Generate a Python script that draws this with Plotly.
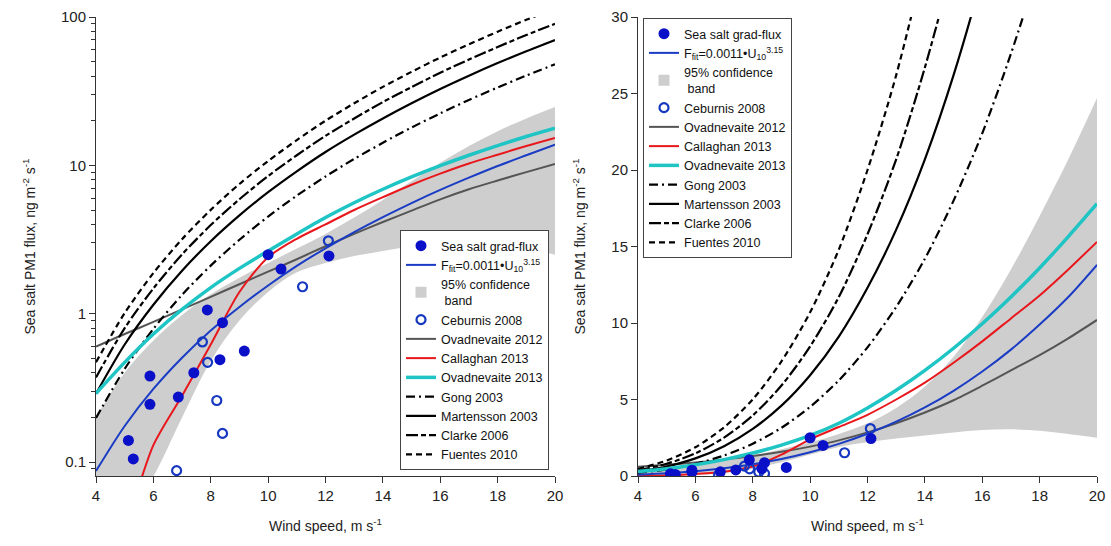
import plotly.graph_objects as go

# ---------------- data ----------------
wind = [4, 5, 6, 7, 8, 9, 10, 11, 12, 13, 14, 15, 16, 17, 18, 19, 20]

fit_flux = [0.087, 0.175, 0.311, 0.505, 0.77, 1.11, 1.55, 2.10, 2.76, 3.55,
            4.48, 5.57, 6.83, 8.26, 9.9, 11.7, 13.8]
band_upper = [0.2, 0.4, 0.66, 0.98, 1.35, 1.75, 2.2, 2.75, 3.45, 4.45,
              5.85, 7.8, 10.4, 13.5, 17.0, 20.7, 24.7]
band_lower = [0.02, 0.04, 0.08, 0.2, 0.48, 0.9, 1.4, 1.9, 2.2, 2.45,
              2.65, 2.85, 3.0, 3.05, 2.95, 2.75, 2.5]
ovad2012 = [0.60, 0.73, 0.88, 1.07, 1.30, 1.58, 1.92, 2.33, 2.85, 3.45,
            4.15, 4.95, 5.9, 6.9, 7.9, 9.0, 10.2]
callaghan2013 = [0.012, 0.035, 0.13, 0.28, 0.62, 1.4, 2.4, 3.2, 4.0, 5.0,
                 6.1, 7.4, 8.8, 10.3, 11.8, 13.5, 15.3]
ovad2013 = [0.29, 0.47, 0.73, 1.07, 1.5, 2.02, 2.65, 3.45, 4.45, 5.6,
            6.9, 8.35, 9.95, 11.7, 13.6, 15.65, 17.8]
gong2003 = [0.198, 0.425, 0.79, 1.34, 2.11, 3.15, 4.52, 6.25, 8.41, 11.05,
            14.2, 18.0, 22.4, 27.6, 33.5, 40.3, 48.0]
martensson2003 = [0.289, 0.62, 1.15, 1.95, 3.08, 4.6, 6.59, 9.11, 12.3, 16.1,
                  20.7, 26.2, 32.7, 40.2, 48.9, 58.8, 70.0]
clarke2006 = [0.372, 0.80, 1.48, 2.51, 3.96, 5.91, 8.47, 11.7, 15.8, 20.7,
              26.7, 33.7, 42.1, 51.7, 62.8, 75.6, 90.0]
fuentes2010 = [0.471, 1.01, 1.88, 3.18, 5.01, 7.49, 10.7, 14.8, 20.0, 26.2,
               33.8, 42.7, 53.3, 65.5, 79.6, 95.7, 114.0]

grad_wind = [5.13, 5.30, 5.88, 5.88, 6.87, 7.41, 7.88, 8.41, 8.32, 9.17, 10.0, 10.45, 12.12]
grad_flux = [0.14, 0.105, 0.38, 0.245, 0.274, 0.40, 1.06, 0.87, 0.49, 0.56, 2.5, 2.0, 2.45]

ceb_wind = [6.81, 7.71, 7.89, 8.21, 8.41, 11.2, 12.1]
ceb_flux = [0.0875, 0.645, 0.47, 0.26, 0.156, 1.52, 3.1]

log_major = [0.1, 1, 10, 100]
log_major_text = ["0.1", "1", "10", "100"]
log_minor = [0.09, 0.2, 0.3, 0.4, 0.5, 0.6, 0.7, 0.8, 0.9,
             2, 3, 4, 5, 6, 7, 8, 9, 20, 30, 40, 50, 60, 70, 80, 90]
x_ticks = [4, 6, 8, 10, 12, 14, 16, 18, 20]
lin_ticks = [0, 5, 10, 15, 20, 25, 30]

# ---------------- styles ----------------
FONT = "Liberation Sans, Arial, sans-serif"
C_POINT = "#0a0fc8"
C_FIT = "#1a3cc4"
C_BAND = "#cecece"
C_CEB = "#1638c0"
C_O12 = "#555555"
C_CAL = "#e8171c"
C_O13 = "#1fc4c4"

fig = go.Figure()

panels = [("x", "y", "legend"), ("x2", "y2", "legend2")]

for xa, ya, lg in panels:
    # confidence band
    fig.add_trace(go.Scatter(x=wind, y=band_lower, xaxis=xa, yaxis=ya, mode="lines",
                             line=dict(width=0, color=C_BAND, shape="spline"),
                             showlegend=False, hoverinfo="skip", legend=lg))
    fig.add_trace(go.Scatter(x=wind, y=band_upper, xaxis=xa, yaxis=ya, mode="lines",
                             line=dict(width=0, color=C_BAND, shape="spline"),
                             fill="tonexty", fillcolor=C_BAND,
                             showlegend=False, hoverinfo="skip", legend=lg))
    # legend-only band symbol
    fig.add_trace(go.Scatter(x=[None], y=[None], xaxis=xa, yaxis=ya, mode="markers",
                             marker=dict(symbol="square", size=11, color=C_BAND),
                             name="95% confidence<br> band", legend=lg, legendrank=3))

    lines = [
        ("Ovadnevaite 2012", ovad2012, C_O12, 2, "solid", 5),
        ("Gong 2003", gong2003, "black", 2.2, "9px,4px,2px,4px", 8),
        ("Martensson 2003", martensson2003, "black", 2.2, "solid", 9),
        ("Clarke 2006", clarke2006, "black", 2.2, "12px,3px,5px,3px", 10),
        ("Fuentes 2010", fuentes2010, "black", 2.2, "6px,4px", 11),
        ("Ovadnevaite 2013", ovad2013, C_O13, 3.5, "solid", 7),
        ("Callaghan 2013", callaghan2013, C_CAL, 2, "solid", 6),
        ("F<sub>fit</sub>=0.0011•U<sub>10</sub><sup>3.15</sup>", fit_flux, C_FIT, 2, "solid", 2),
    ]
    for name, vals, col, w, dash, rank in lines:
        fig.add_trace(go.Scatter(x=wind, y=vals, xaxis=xa, yaxis=ya, mode="lines",
                                 line=dict(color=col, width=w, dash=dash, shape="spline",
                                           smoothing=0.8),
                                 name=name, legend=lg, legendrank=rank))

    fig.add_trace(go.Scatter(x=ceb_wind, y=ceb_flux, xaxis=xa, yaxis=ya, mode="markers",
                             marker=dict(symbol="circle-open", size=9, color=C_CEB,
                                         line=dict(width=2.2, color=C_CEB)),
                             name="Ceburnis 2008", legend=lg, legendrank=4))
    fig.add_trace(go.Scatter(x=grad_wind, y=grad_flux, xaxis=xa, yaxis=ya, mode="markers",
                             marker=dict(symbol="circle", size=11, color=C_POINT),
                             name="Sea salt grad-flux", legend=lg, legendrank=1))

# ---------------- layout ----------------
W, H = 1111, 546
PL, PR, PT, PB = 96, 1097, 17, 476          # plot-area edges in pixels
L, T = PL, PT
R = W - PR
B = H - PB
pw = PR - PL
ph = PB - PT

def px(xpix):
    return (xpix - PL) / pw

def py(ypix):
    return (PB - ypix) / ph

axis_common = dict(showline=True, linecolor="#333333", linewidth=1, ticks="outside",
                   ticklen=6, tickcolor="#333333", showgrid=False, zeroline=False,
                   tickfont=dict(size=15, color="#222222", family=FONT), mirror=False,
                   automargin=False)

xtitle = dict(text="Wind speed, m s<sup>-1</sup>", font=dict(size=14, color="#222222"), standoff=18)
ytitle = dict(text="Sea salt PM1 flux, ng m<sup>-2</sup> s<sup>-1</sup>",
              font=dict(size=14, color="#222222"), standoff=22)

legend_common = dict(bgcolor="white", bordercolor="#444444", borderwidth=1,
                     font=dict(size=12.5, color="#111111", family=FONT),
                     tracegroupgap=0, itemwidth=30, traceorder="normal")

fig.update_layout(
    width=W, height=H,
    margin=dict(l=L, r=R, t=T, b=B, autoexpand=False),
    paper_bgcolor="white", plot_bgcolor="white",
    font=dict(family=FONT, color="#222222"),
    xaxis=dict(domain=[0, px(555)], range=[4, 20], tickvals=x_ticks,
               anchor="y", title=xtitle, **axis_common),
    yaxis=dict(domain=[0, 1], type="log", range=[-1.094, 2], tickvals=log_major,
               ticktext=log_major_text, anchor="x", title=ytitle,
               minor=dict(tickvals=log_minor, ticks="outside", ticklen=4,
                          tickcolor="#333333", showgrid=False),
               **axis_common),
    xaxis2=dict(domain=[px(638), 1], range=[4, 20], tickvals=x_ticks,
                anchor="y2", title=xtitle, **axis_common),
    yaxis2=dict(domain=[0, 1], range=[0, 30], tickvals=lin_ticks, anchor="x2",
                title=ytitle, **axis_common),
    legend=dict(x=px(400), y=py(470), xanchor="left", yanchor="bottom", **legend_common),
    legend2=dict(x=px(643), y=py(18), xanchor="left", yanchor="top", **legend_common),
    showlegend=True,
)

# remove the page's default body margin so the figure sits at the window origin
fig.write_html("out.html",
               config={"displayModeBar": False},
               post_script="document.body.style.margin='0px';document.body.style.overflow='hidden';")
